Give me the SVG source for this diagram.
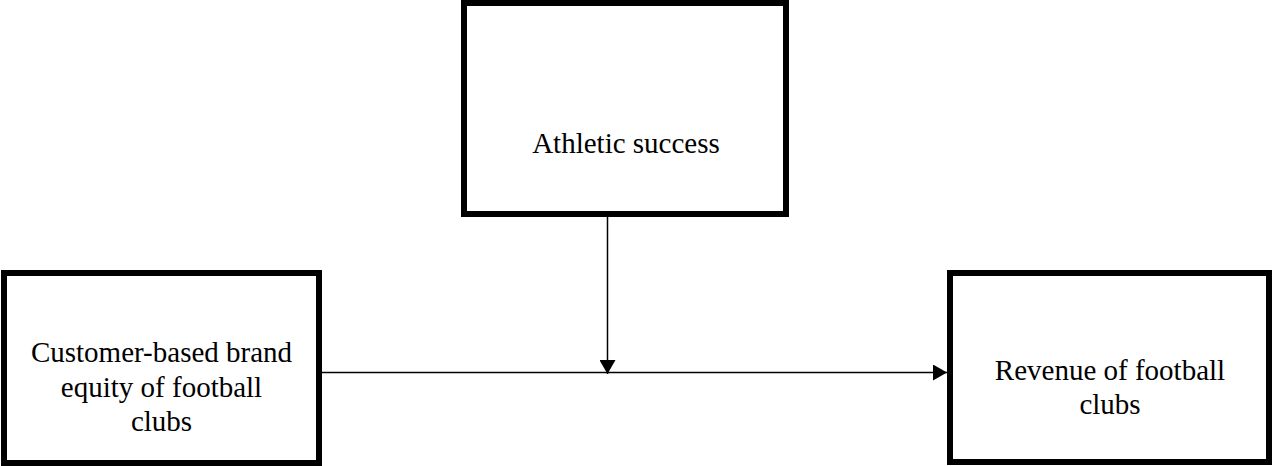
<svg xmlns="http://www.w3.org/2000/svg" width="1272" height="466" viewBox="0 0 1272 466">
  <style>
    .box { fill: #ffffff; stroke: #000000; stroke-width: 6; }
    .lbl { font-family: "Liberation Serif", "Times New Roman", serif; font-size: 29px; fill: #000000; text-anchor: middle; }
    .conn { stroke: #000000; stroke-width: 1.5; fill: none; }
  </style>
  <defs>
    <marker id="arrow" markerUnits="userSpaceOnUse" markerWidth="14" markerHeight="16" refX="14" refY="8" orient="auto">
      <path d="M0,0 L14,8 L0,16 Z" fill="#000000"/>
    </marker>
  </defs>
  <rect width="1272" height="466" fill="#ffffff"/>
  <g id="node-athletic">
    <rect class="box" x="464" y="3" width="322" height="211"/>
    <text class="lbl" x="626" y="153">Athletic success</text>
  </g>
  <g id="node-cbbe">
    <rect class="box" x="4" y="273" width="315" height="190"/>
    <text class="lbl" x="161.5" y="362">Customer-based brand</text>
    <text class="lbl" x="161.5" y="396.5">equity of football</text>
    <text class="lbl" x="161.5" y="431">clubs</text>
  </g>
  <g id="node-revenue">
    <rect class="box" x="950" y="273" width="319" height="189"/>
    <text class="lbl" x="1110" y="380">Revenue of football</text>
    <text class="lbl" x="1110" y="414">clubs</text>
  </g>
  <g id="connectors">
    <line class="conn" x1="322" y1="372.5" x2="947" y2="372.5" marker-end="url(#arrow)"/>
    <line class="conn" x1="607.5" y1="217" x2="607.5" y2="374" marker-end="url(#arrow)"/>
  </g>
</svg>
